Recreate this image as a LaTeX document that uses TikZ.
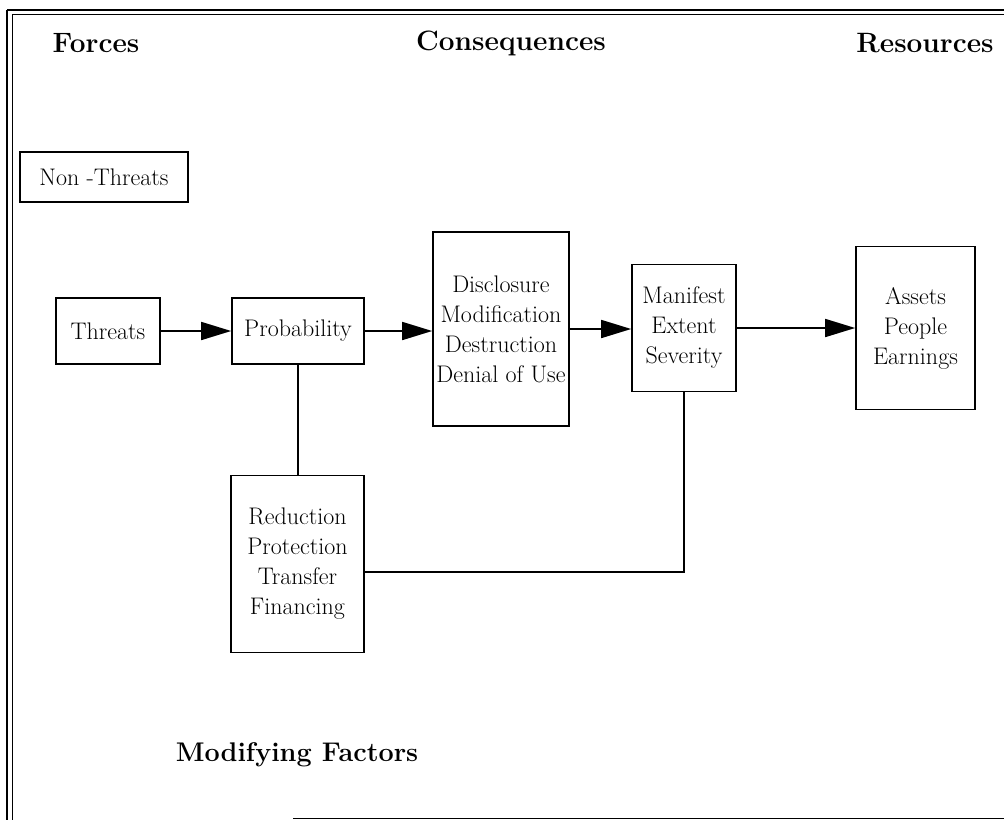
\documentclass[tikz,border=0pt]{standalone}
\usetikzlibrary{arrows.meta}
\begin{document}
\begin{tikzpicture}[x=1pt,y=-1pt,
  box/.style={draw,line width=1.6pt,align=center,inner sep=0pt,
    font=\fontsize{24}{30}\selectfont},
  head/.style={font=\bfseries\fontsize{28}{34}\selectfont},
  flow/.style={-{Triangle[length=30pt,width=18pt]},line width=1.6pt},
  link/.style={line width=1.6pt}]
  \useasboundingbox (0,0) rectangle (1004,820);
  % frame
  \draw[line width=2pt] (7,10)--(1004,10);
  \draw[line width=1pt] (12,14)--(1004,14);
  \draw[line width=1.5pt] (7,10)--(7,820);
  \draw[line width=1pt] (12,14)--(12,820);
  \draw[line width=1pt] (293,818)--(1004,818);
  % headings
  \node[head] (forces) at (96,43) {Forces};
  \node[head] (conseq) at (511,43) {Consequences};
  \node[head] (resour) at (925,43) {Resources};
  \node[head,font=\bfseries\fontsize{27}{32}\selectfont] (modif) at (297,755) {Modifying Factors};
  % boxes
  \node[box,minimum width=168pt,minimum height=50pt] (nonthr) at (104,177) {Non -Threats};
  \node[box,minimum width=104pt,minimum height=66pt] (threats) at (108,331) {Threats};
  \node[box,minimum width=132pt,minimum height=66pt] (prob) at (298,331) {Probability};
  \node[box,minimum width=136pt,minimum height=194pt] (cons) at (501,329)
    {Disclosure\\Modification\\Destruction\\Denial of Use};
  \node[box,minimum width=104pt,minimum height=127pt] (manif) at (684,328)
    {Manifest\\Extent\\Severity};
  \node[box,minimum width=119pt,minimum height=163pt] (assets) at (915.5,328)
    {Assets\\People\\Earnings};
  \node[box,minimum width=133pt,minimum height=177pt] (reduc) at (297.5,564)
    {Reduction\\Protection\\Transfer\\Financing};
  % connectors
  \draw[flow] (threats) -- (prob);
  \draw[flow] (prob.east) -- (prob.east -| cons.west);
  \draw[flow] (cons.east) -- (cons.east -| manif.west);
  \draw[flow] (manif.east) -- (manif.east -| assets.west);
  \draw[link] (prob.south) -- (prob.south |- reduc.north);
  \draw[link] (manif.south) |- ([yshift=-8pt]reduc.east);
\end{tikzpicture}
\end{document}
